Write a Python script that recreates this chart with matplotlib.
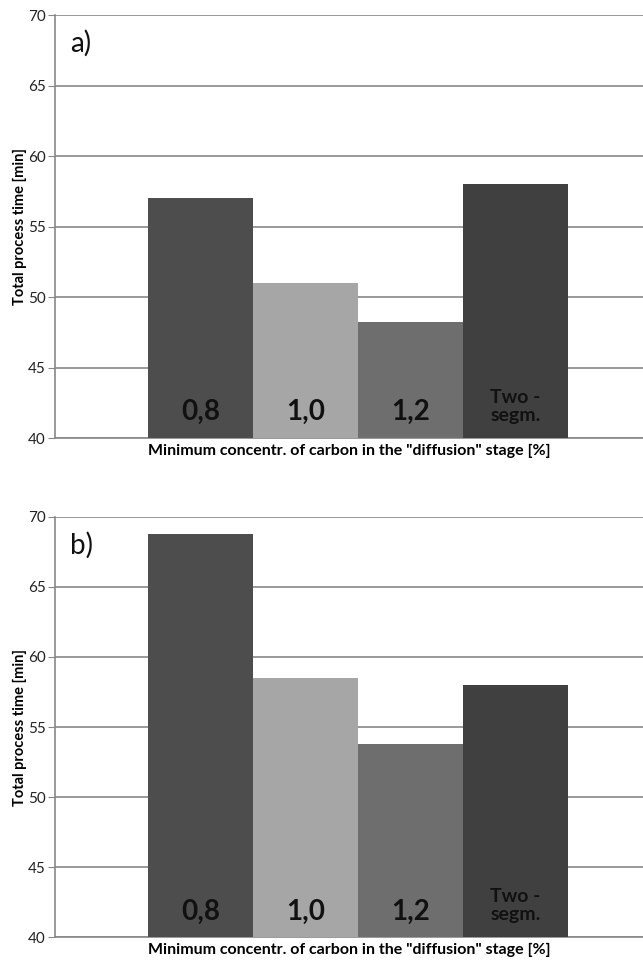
import matplotlib.pyplot as plt

# categories (labels written inside the bars)
categories = ["0,8", "1,0", "1,2", "Two -\nsegm."]
bar_colors = ["#4d4d4d", "#a6a6a6", "#6e6e6e", "#404040"]

# total process time [min]
times_a = [57.0, 51.0, 48.2, 58.0]
times_b = [68.8, 58.5, 53.8, 58.0]

y_ticks = [40, 45, 50, 55, 60, 65, 70]

plt.rcParams["font.family"] = ["Lato", "DejaVu Sans"]

fig = plt.figure(figsize=(6.43, 9.64), dpi=100)
ax_a = fig.add_axes([0.0855, 0.5456, 0.9145, 0.4388])
ax_b = fig.add_axes([0.0855, 0.0280, 0.9145, 0.4357])

for ax, vals, tag in [(ax_a, times_a, "a)"), (ax_b, times_b, "b)")]:
    x = range(len(vals))
    ax.bar(x, [v - 40 for v in vals], bottom=40, width=1.0,
           color=bar_colors, zorder=3)
    ax.set_ylim(40, 70)
    ax.set_xlim(-1.386, 4.214)
    ax.set_yticks(y_ticks)
    ax.set_xticks([])
    ax.tick_params(axis="y", labelsize=11, length=5, color="#888888",
                   labelcolor="#222222", pad=1.5)
    ax.grid(True, axis="y", color="#888888", linewidth=1.2, zorder=0)
    for s in ["top", "right"]:
        ax.spines[s].set_visible(False)
    for s in ["left", "bottom"]:
        ax.spines[s].set_color("#888888")
        ax.spines[s].set_linewidth(1.2)

    for i, lab in enumerate(categories):
        if "\n" in lab:
            ax.text(i, 41.0, lab, ha="center", va="bottom", fontsize=14,
                    fontweight="bold", color="#111111", linespacing=1.1,
                    zorder=4)
        else:
            ax.text(i, 40.9, lab, ha="center", va="bottom", fontsize=20,
                    fontweight="bold", color="#111111", zorder=4)

    ax.text(0.025, 0.965, tag, transform=ax.transAxes, fontsize=20,
            ha="left", va="top", color="#111111")
    ax.set_ylabel("Total process time [min]", fontsize=10.5, fontweight="bold",
                  labelpad=1)
    ax.set_xlabel('Minimum concentr. of carbon in the "diffusion" stage [%]',
                  fontsize=11.5, fontweight="bold", labelpad=4)

fig.savefig("out.png", dpi=100)
